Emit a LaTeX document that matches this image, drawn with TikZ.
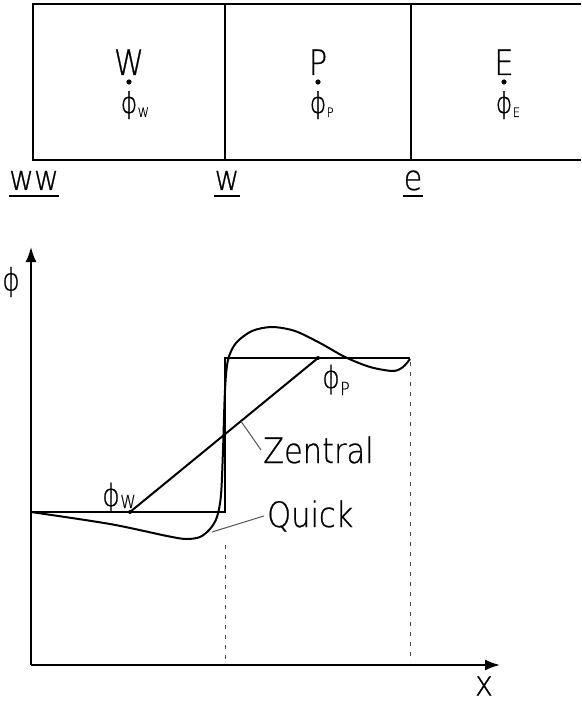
\documentclass[tikz,border=0pt]{standalone}
\usepackage{fontspec}
\setmainfont{DejaVu Sans ExtraLight}[FakeStretch=0.87,FakeBold=0.6]
\usetikzlibrary{arrows.meta,positioning}
\definecolor{LeadGray}{RGB}{85,85,85}
\definecolor{GuideGray}{RGB}{70,70,70}
\newcommand{\bigtxt}{\fontsize{35}{35}\selectfont}
\newcommand{\grphi}{\fontsize{31}{31}\selectfont}
\newcommand{\grsub}{\fontsize{18}{18}\selectfont}
\newcommand{\cellphi}{\fontsize{29}{29}\selectfont}
\newcommand{\cellsub}{\fontsize{13}{13}\selectfont}

\begin{document}
\begin{tikzpicture}[x=1pt,y=-1pt,>={Latex[length=15pt,width=11pt]},
  txt/.style={inner sep=0pt,font=\bigtxt},
  cphi/.style={inner sep=0pt,font=\cellphi},
  csub/.style={inner sep=0pt,font=\cellsub},
  gphi/.style={inner sep=0pt,font=\grphi},
  gsub/.style={inner sep=0pt,font=\grsub},
  frame/.style={line width=2pt},
  axis/.style={line width=2pt},
  stepline/.style={line width=2.7pt,line join=miter},
  curve/.style={line width=2pt},
  leader/.style={line width=1pt,LeadGray},
  guide/.style={line width=1pt,GuideGray,dash pattern=on 4pt off 6pt}]
  \useasboundingbox (0,0) rectangle (581,703);
  % control volumes
  \draw[frame] (581,4) -- (33,4) -- (33,160) -- (581,160);
  \draw[frame] (225,4) -- (225,160);
  \draw[frame] (411,4) -- (411,160);
  \foreach \c/\x in {W/129,P/318,E/504}{
    \node[txt,anchor=base] (cell\c) at (\x,75) {\c};
    \fill (\x,82) circle (2.6pt);
    \node[cphi,anchor=base] (phi\c) at (\x,113) {ϕ};
    \node[csub,anchor=base west] (sub\c) at ([yshift=-4pt]phi\c.base east) {\c};
  }
  % faces
  \foreach \f/\t/\x in {ww/ww/34,w/w/227,e/e/413}{
    \node[txt,anchor=base] (face\f) at (\x,190) {\t};
    \draw[line width=2pt] ([yshift=-6pt]face\f.base west) -- ([yshift=-6pt]face\f.base east);
  }
  % axes
  \coordinate (O) at (31,665);
  \coordinate (ytip) at (31,247);
  \coordinate (xtip) at (500,665);
  \draw[axis,->] (O) -- (ytip);
  \draw[axis,->] (O) -- (xtip);
  \node[gphi] (ylab) at (11,282) {ϕ};
  \node[txt] (xlab) at (484,686) {x};
  % guides
  \draw[guide] (225,545) -- (225,662);
  \draw[guide] (410,362) -- (410,662);
  % step profile
  \draw[stepline] (31,512) -- (225,512) -- (225,358) -- (410,358);
  % central scheme
  \coordinate (pW) at (130,512);
  \coordinate (pP) at (318,358);
  \draw[curve] (pW) -- (pP);
  \fill (pW) circle (2pt);
  \fill (pP) circle (2pt);
  \path (pW) -- (pP) coordinate[pos=0.59] (zc);
  % quick scheme
  \draw[curve] plot[smooth,tension=0.5] coordinates {(31,512) (110,524) (167,536) (186,539) (200,537) (210,529) (217,517) (221,495) (223,450) (225,390) (228,360) (236,343) (252,331) (272,327) (295,331) (320,343) (345,357) (370,367) (393,371) (403,367) (410,359)};
  \coordinate (qc) at (212,532);
  % labels
  \node[gphi,anchor=base] (gphiW) at (111,506) {ϕ};
  \node[gsub,anchor=base west] (gsubW) at ([yshift=-2pt]gphiW.base east) {W};
  \node[gphi,anchor=base] (gphiP) at (331,388) {ϕ};
  \node[gsub,anchor=base west] (gsubP) at ([yshift=-7pt]gphiP.base east) {P};
  \node[txt,anchor=base west] (zentral) at (263,463) {Zentral};
  \node[txt,anchor=base west] (quick) at (267,527) {Quick};
  \draw[leader] (zc) -- ([xshift=-2pt]zentral.west);
  \draw[leader] (qc) -- ([xshift=-3pt]quick.west);
\end{tikzpicture}
\end{document}
